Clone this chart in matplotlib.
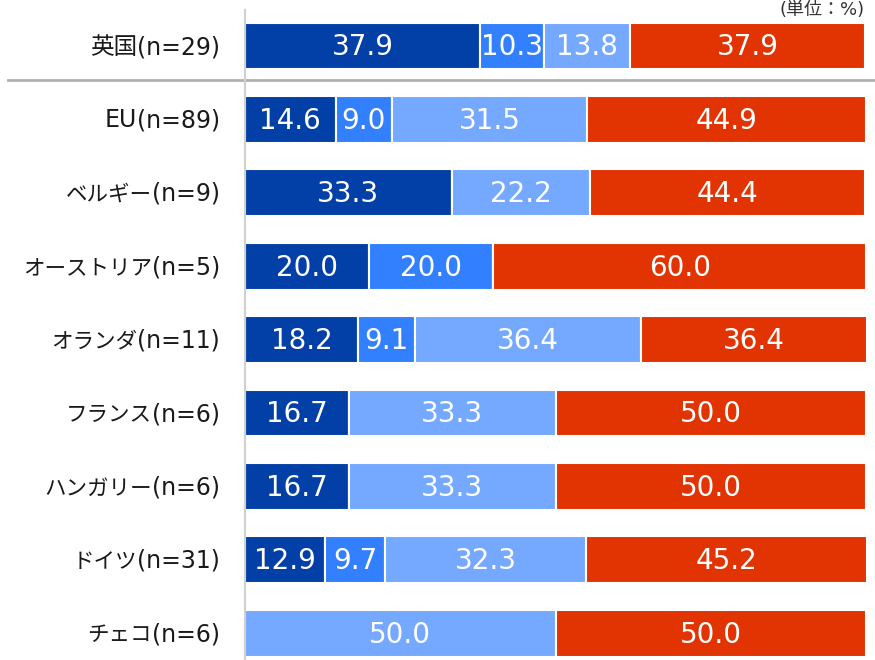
import matplotlib
matplotlib.use("Agg")
import matplotlib.pyplot as plt
import numpy as np

plt.rcParams['font.family'] = ['DejaVu Sans', 'Noto Sans CJK JP']

categories = ["英国(n=29)", "EU(n=89)", "ベルギー(n=9)", "オーストリア(n=5)",
              "オランダ(n=11)", "フランス(n=6)", "ハンガリー(n=6)",
              "ドイツ(n=31)", "チェコ(n=6)"]
seg1 = [37.9, 14.6, 33.3, 20.0, 18.2, 16.7, 16.7, 12.9, 0.0]
seg2 = [10.3, 9.0, 0.0, 20.0, 9.1, 0.0, 0.0, 9.7, 0.0]
seg3 = [13.8, 31.5, 22.2, 0.0, 36.4, 33.3, 33.3, 32.3, 50.0]
seg4 = [37.9, 44.9, 44.4, 60.0, 36.4, 50.0, 50.0, 45.2, 50.0]
colors = ["#023FA6", "#3380FF", "#75A8FF", "#E23402"]
unit_label = "(単位：%)"

W, H = 875, 660
fig = plt.figure(figsize=(W / 100, H / 100), dpi=100)
ax = fig.add_axes([245 / W, 0, (866 - 245) / W, 1])

y = np.arange(len(categories))
left = np.zeros(len(categories))
for vals, col in zip([seg1, seg2, seg3, seg4], colors):
    vals = np.array(vals)
    ax.barh(y, vals, left=left, height=0.64, color=col,
            edgecolor="white", linewidth=1.5)
    for yi, (l, v) in enumerate(zip(left, vals)):
        if v > 0:
            ax.text(l + v / 2, yi + 0.02, f"{v:.1f}", ha="center", va="center",
                    color="white", fontsize=20)
    left += vals

ax.set_xlim(0, 100)
ax.set_ylim((660 - 46) / 73.4, -46 / 73.4)
ax.set_yticks([])
ax.set_xticks([])
for s in ["top", "right", "bottom"]:
    ax.spines[s].set_visible(False)
ax.spines["left"].set_color("#D0D0D0")
ax.spines["left"].set_linewidth(1.5)
ax.spines["left"].set_bounds(-36 / 73.4, (660 - 46) / 73.4)

# Category labels: the "(n=..)" part in a Latin face, the name before it
# set separately (on a shared baseline) so kana can use a tighter size.
fig.canvas.draw()
renderer = fig.canvas.get_renderer()
label_color = "#1A1A1A"
for yi, cat in zip(y, categories):
    cut = cat.index("(")
    name, count = cat[:cut], cat[cut:]
    t = ax.annotate(count, xy=(0, yi), xytext=(-25, -8),
                    textcoords="offset pixels", ha="right", va="baseline",
                    fontsize=17, color=label_color)
    w = t.get_window_extent(renderer).width
    is_kana = any("\u30a0" <= ch <= "\u30ff" for ch in name)
    ax.annotate(name, xy=(0, yi), xytext=(-25 - w, -8),
                textcoords="offset pixels", ha="right", va="baseline",
                fontsize=15.5 if is_kana else 17, color=label_color)

# divider between the UK row and the EU rows
ax.axhline((80 - 46) / 73.4, xmin=(8 - 245) / 621, xmax=(875 - 245) / 621,
           color="#B0B0B0", linewidth=2, clip_on=False)

fig.text(865 / W, 1 - 1 / H, unit_label, ha="right", va="top",
         fontsize=13, color="#333333")

fig.savefig("out.png", dpi=100)
